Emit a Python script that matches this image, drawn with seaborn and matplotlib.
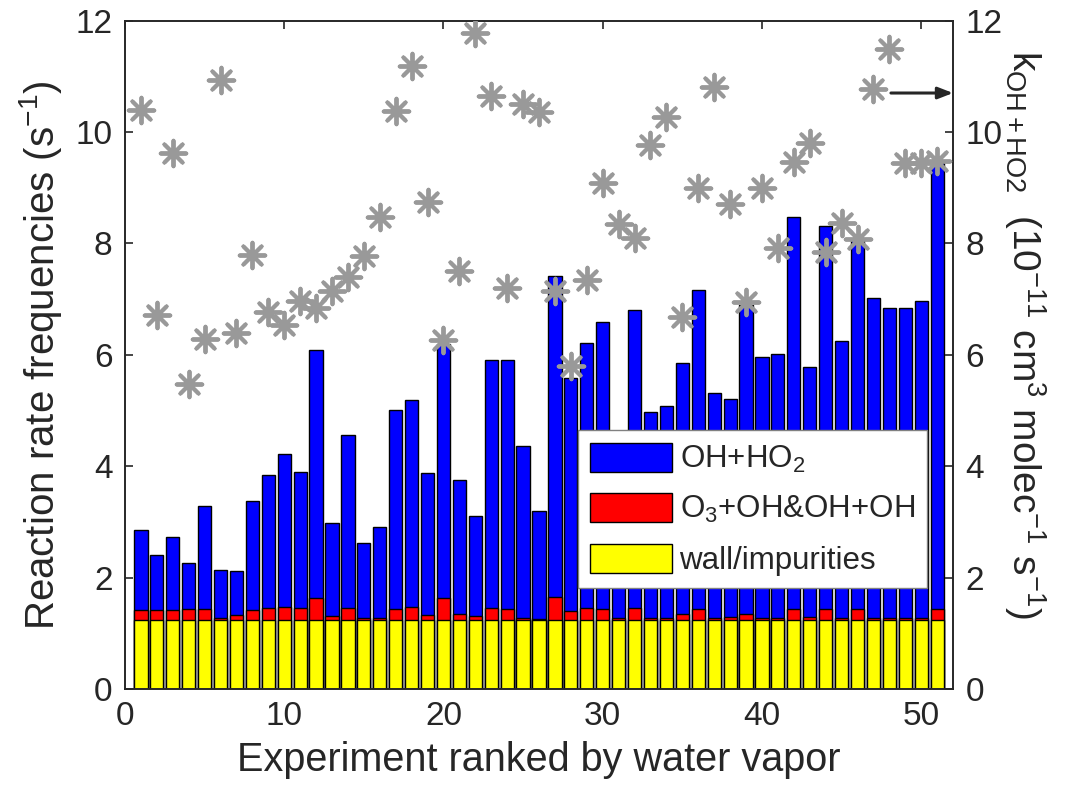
import numpy as np
import pandas as pd
import matplotlib
matplotlib.use("Agg")
import matplotlib.pyplot as plt
import seaborn as sns
from matplotlib.patches import Patch

# ---------------- data ----------------
experiment = list(range(1, 52))
wall = [1.24] * 51
red_top = [1.42, 1.42, 1.41, 1.44, 1.44, 1.28, 1.32, 1.41, 1.46, 1.47,
           1.46, 1.64, 1.31, 1.46, 1.28, 1.28, 1.43, 1.47, 1.33, 1.64,
           1.35, 1.31, 1.46, 1.43, 1.28, 1.25, 1.66, 1.40, 1.45, 1.43,
           1.28, 1.46, 1.28, 1.28, 1.34, 1.44, 1.28, 1.29, 1.34, 1.28,
           1.28, 1.44, 1.29, 1.43, 1.28, 1.43, 1.28, 1.28, 1.28, 1.28,
           1.43]
total = [2.86, 2.41, 2.73, 2.27, 3.28, 2.13, 2.11, 3.37, 3.85, 4.22,
         3.89, 6.09, 2.98, 4.56, 2.62, 2.91, 5.01, 5.19, 3.87, 6.20,
         3.76, 3.10, 5.90, 5.90, 4.36, 3.20, 7.42, 5.59, 6.21, 6.58,
         4.60, 6.80, 4.98, 5.08, 5.85, 7.17, 5.32, 5.20, 6.90, 5.96,
         6.02, 8.47, 5.78, 8.31, 6.25, 8.06, 7.02, 6.84, 6.84, 6.97,
         9.44]
k_oh_ho2 = [10.39, 6.72, 9.62, 5.48, 6.29, 10.93, 6.39, 7.80, 6.77, 6.53,
            6.96, 6.84, 7.14, 7.40, 7.78, 8.47, 10.38, 11.19, 8.74, 6.27,
            7.51, 11.77, 10.65, 7.20, 10.51, 10.36, 7.14, 5.80, 7.35, 9.09,
            8.35, 8.10, 9.76, 10.27, 6.67, 8.99, 10.81, 8.71, 6.95, 8.99,
            7.92, 9.46, 9.80, 7.84, 8.36, 8.08, 10.77, 11.49, 9.44, 9.44,
            9.48]

wall_arr = np.array(wall)
red_arr = np.array(red_top) - wall_arr          # O3+OH & OH+OH component
blue_arr = np.array(total) - np.array(red_top)  # OH+HO2 component

df = pd.DataFrame({
    "exp": experiment,
    "wall": wall_arr,
    "wall_red": wall_arr + red_arr,
    "all": wall_arr + red_arr + blue_arr,
    "k": k_oh_ho2,
})

legend_labels = ["OH+HO$_2$", "O$_3$+OH&OH+OH", "wall/impurities"]
colors = ["#0000FF", "#FF0000", "#FFFF00"]

# ---------------- style ----------------
sns.set_style("white")
plt.rcParams["font.family"] = ["Liberation Sans", "DejaVu Sans"]
plt.rcParams["mathtext.fontset"] = "custom"
plt.rcParams["mathtext.rm"] = "Liberation Sans"
plt.rcParams["mathtext.it"] = "Liberation Sans:italic"
plt.rcParams["mathtext.bf"] = "Liberation Sans:bold"
axcol = "#262626"

fig = plt.figure(figsize=(10.84, 7.99), dpi=100)
ax = fig.add_axes([0.1153, 0.1377, 0.8792 - 0.1153, 0.9742 - 0.1377])

for col, c in zip(["all", "wall_red", "wall"], colors):
    sns.barplot(data=df, x="exp", y=col, native_scale=True, color=c,
                saturation=1, width=0.83, edgecolor="black", linewidth=1.0,
                ax=ax, errorbar=None)

ax.set_xlim(0, 52)
ax.set_ylim(0, 12)
ax.set_xticks([0, 10, 20, 30, 40, 50])
ax.set_yticks([0, 2, 4, 6, 8, 10, 12])
ax.set_xlabel("Experiment ranked by water vapor", fontsize=28.5, color=axcol, labelpad=6)
ax.set_ylabel("Reaction rate frequencies (s$^{-1}$)", fontsize=29, color=axcol, labelpad=8)
ax.tick_params(axis="both", direction="in", length=6, width=1.2, labelsize=24,
               colors=axcol, top=True, right=False, pad=9)
for s in ax.spines.values():
    s.set_color(axcol)
    s.set_linewidth(1.2)

handles = [Patch(facecolor=c, edgecolor="black", linewidth=1.0) for c in colors]
leg = ax.legend(handles, legend_labels, loc="upper right",
                bbox_to_anchor=(0.9686, 0.387), fontsize=22.5, frameon=True,
                fancybox=False, edgecolor="#808080", framealpha=1,
                handlelength=2.6, handleheight=1.05, labelspacing=0.58,
                handletextpad=0.25, borderpad=0.4, borderaxespad=0)
leg.get_frame().set_linewidth(1.0)

ax2 = ax.twinx()
sns.scatterplot(data=df, x="exp", y="k", marker=(8, 2, 0), s=340,
                color="#999999", edgecolor="#999999", linewidth=2.8,
                ax=ax2, zorder=5, legend=False)
ax2.set_ylim(0, 12)
ax2.set_xlim(0, 52)
ax2.set_yticks([0, 2, 4, 6, 8, 10, 12])
ax2.tick_params(axis="y", direction="in", length=6, width=1.2, labelsize=24,
                colors=axcol, pad=9)
ax2.set_ylabel(r"k$_{\mathregular{OH+HO2}}$  (10$^{-11}$ cm$^3$ molec$^{-1}$ s$^{-1}$)",
               fontsize=28, color=axcol, rotation=270, labelpad=30)
ax2.yaxis.set_label_coords(1.115, 0.53)
for s in ax2.spines.values():
    s.set_color(axcol)
    s.set_linewidth(1.2)

ax2.annotate("", xy=(52, 10.7), xytext=(48.1, 10.7),
             arrowprops=dict(arrowstyle="-|>,head_length=0.9,head_width=0.35",
                             color=axcol, lw=2.2, shrinkA=0, shrinkB=0))

fig.savefig("out.png", dpi=100)
